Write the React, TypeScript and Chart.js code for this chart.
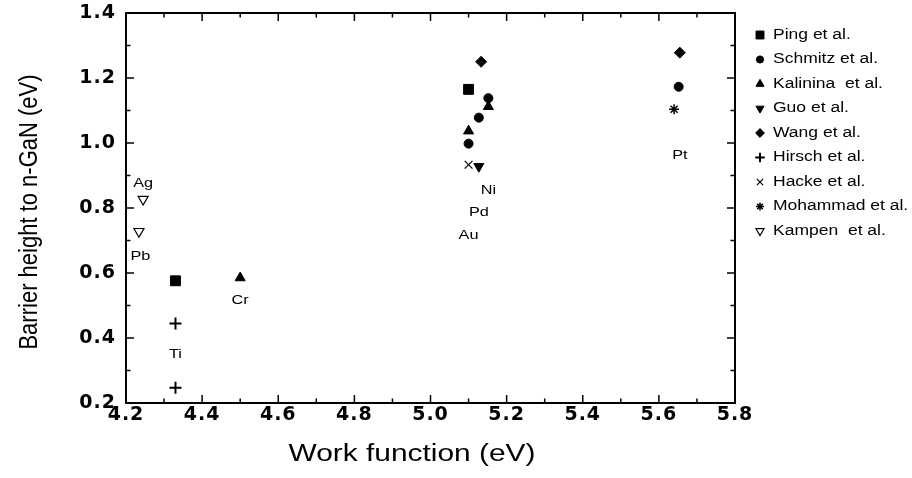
import React, { useEffect, useRef } from 'react';
import { Chart, registerables } from 'chart.js';
import { drawPoint } from 'chart.js/helpers';

Chart.register(...registerables);

// ---- axis ticks ----
const X_TICKS = [4.2, 4.4, 4.6, 4.8, 5.0, 5.2, 5.4, 5.6, 5.8];
const X_MINOR = [4.3, 4.5, 4.7, 4.9, 5.1, 5.3, 5.5, 5.7];
const Y_TICKS = [0.2, 0.4, 0.6, 0.8, 1.0, 1.2, 1.4];
const Y_MINOR = [0.3, 0.5, 0.7, 0.9, 1.1, 1.3];

const X_TITLE = 'Work function (eV)';
const Y_TITLE = 'Barrier height to n-GaN (eV)';

// ---- series ----
const SERIES_NAMES = [
  'Ping et al.',
  'Schmitz et al.',
  'Kalinina  et al.',
  'Guo et al.',
  'Wang et al.',
  'Hirsch et al.',
  'Hacke et al.',
  'Mohammad et al.',
  'Kampen  et al.',
];

const pingX = [4.33, 5.1];
const pingY = [0.576, 1.165];
const schmitzX = [5.1, 5.127, 5.152, 5.652];
const schmitzY = [0.998, 1.078, 1.138, 1.173];
const kalininaX = [4.5, 5.1, 5.152];
const kalininaY = [0.585, 1.037, 1.112];
const guoX = [5.127];
const guoY = [0.928];
const wangX = [5.133, 5.655];
const wangY = [1.25, 1.278];
const hirschX = [4.33, 4.33];
const hirschY = [0.445, 0.247];
const hackeX = [5.1];
const hackeY = [0.933];
const mohammadX = [5.64];
const mohammadY = [1.104];
const kampenX = [4.245, 4.234];
const kampenY = [0.827, 0.728];

// ---- metal annotations ----
const METALS = ['Ag', 'Pb', 'Cr', 'Ti', 'Au', 'Pd', 'Ni', 'Pt'];
const METAL_X = [4.245, 4.238, 4.5, 4.33, 5.1, 5.127, 5.152, 5.655];
const METAL_Y = [0.876, 0.65, 0.517, 0.348, 0.717, 0.785, 0.855, 0.963];

const SERIES_X = [pingX, schmitzX, kalininaX, guoX, wangX, hirschX, hackeX, mohammadX, kampenX];
const SERIES_Y = [pingY, schmitzY, kalininaY, guoY, wangY, hirschY, hackeY, mohammadY, kampenY];

type MarkerStyle = {
  pointStyle: string;
  radius: number;
  rotation: number;
  fill: string;
  borderWidth: number;
};

const STYLES: MarkerStyle[] = [
  { pointStyle: 'rect', radius: 7, rotation: 0, fill: '#000', borderWidth: 1 },
  { pointStyle: 'circle', radius: 4.5, rotation: 0, fill: '#000', borderWidth: 1 },
  { pointStyle: 'triangle', radius: 5.8, rotation: 0, fill: '#000', borderWidth: 1 },
  { pointStyle: 'triangle', radius: 5.8, rotation: 180, fill: '#000', borderWidth: 1 },
  { pointStyle: 'rectRot', radius: 5.5, rotation: 0, fill: '#000', borderWidth: 1 },
  { pointStyle: 'cross', radius: 6, rotation: 0, fill: '#000', borderWidth: 2 },
  { pointStyle: 'crossRot', radius: 5.5, rotation: 0, fill: '#000', borderWidth: 1.2 },
  { pointStyle: 'star', radius: 5, rotation: 0, fill: '#000', borderWidth: 1.5 },
  { pointStyle: 'triangle', radius: 5.8, rotation: 180, fill: '#fff', borderWidth: 1.2 },
];

function wideText(ctx: CanvasRenderingContext2D, text: string, x: number, y: number, sx: number, align: CanvasTextAlign) {
  ctx.save();
  ctx.translate(x, y);
  ctx.scale(sx, 1);
  ctx.textAlign = align;
  ctx.textBaseline = 'middle';
  ctx.fillText(text, 0, 0);
  ctx.restore();
}

const overlay = {
  id: 'overlay',
  beforeDraw(chart: any) {
    chart.ctx.letterSpacing = '1px';
  },
  beforeDatasetsDraw(chart: any) {
    chart.ctx.letterSpacing = '0px';
  },
  afterDraw(chart: any) {
    const { ctx, chartArea: a } = chart;
    const xs = chart.scales.x;
    const ys = chart.scales.y;
    ctx.save();
    ctx.letterSpacing = '0px';
    ctx.strokeStyle = '#000';
    ctx.fillStyle = '#000';

    // frame
    ctx.lineWidth = 2;
    ctx.strokeRect(a.left, a.top, a.right - a.left, a.bottom - a.top);

    // inward tick marks on all four sides
    ctx.lineWidth = 1.5;
    const seg = (x1: number, y1: number, x2: number, y2: number) => {
      ctx.beginPath();
      ctx.moveTo(x1, y1);
      ctx.lineTo(x2, y2);
      ctx.stroke();
    };
    const xt = (vals: number[], len: number) =>
      vals.forEach((v) => {
        const p = xs.getPixelForValue(v);
        seg(p, a.bottom, p, a.bottom - len);
        seg(p, a.top, p, a.top + len);
      });
    const yt = (vals: number[], len: number) =>
      vals.forEach((v) => {
        const p = ys.getPixelForValue(v);
        seg(a.left, p, a.left + len, p);
        seg(a.right, p, a.right - len, p);
      });
    xt(X_TICKS, 8);
    xt(X_MINOR, 4.5);
    yt(Y_TICKS, 8);
    yt(Y_MINOR, 4.5);

    // metal labels
    ctx.font = "13px 'Liberation Sans'";
    METALS.forEach((m, i) => {
      wideText(ctx, m, xs.getPixelForValue(METAL_X[i]), ys.getPixelForValue(METAL_Y[i]), 1.25, 'center');
    });

    // axis titles
    ctx.save();
    ctx.font = "22px 'Liberation Sans'";
    ctx.textAlign = 'center';
    ctx.textBaseline = 'middle';
    ctx.translate(30, (a.top + a.bottom) / 2 + 4);
    ctx.rotate(-Math.PI / 2);
    ctx.scale(1, 1.2);
    ctx.fillText(Y_TITLE, 0, 0);
    ctx.restore();

    ctx.font = "23px 'Liberation Sans'";
    wideText(ctx, X_TITLE, 412, 455, 1.3, 'center');

    // legend
    const lx = a.right + 25;
    const ly0 = 35;
    const step = 24.5;
    ctx.font = "14px 'Liberation Sans'";
    SERIES_NAMES.forEach((name, i) => {
      const st = STYLES[i];
      const yy = ly0 + step * i;
      ctx.save();
      ctx.fillStyle = st.fill;
      ctx.strokeStyle = '#000';
      ctx.lineWidth = st.borderWidth;
      drawPoint(
        ctx,
        {
          pointStyle: st.pointStyle as any,
          radius: st.radius * 0.8,
          rotation: st.rotation,
          borderWidth: st.borderWidth,
        } as any,
        lx,
        yy
      );
      ctx.restore();
      wideText(ctx, name, lx + 13, yy, 1.25, 'left');
    });
    ctx.restore();
    ctx.letterSpacing = '0px';
  },
};

export default function App() {
  const ref = useRef<HTMLCanvasElement>(null);
  useEffect(() => {
    document.body.style.margin = '0';
    const datasets = SERIES_NAMES.map((name, i) => {
      const st = STYLES[i];
      return {
        label: name,
        data: SERIES_X[i].map((x, j) => ({ x, y: SERIES_Y[i][j] })),
        showLine: false,
        pointStyle: st.pointStyle,
        pointRadius: st.radius,
        pointHoverRadius: st.radius,
        pointRotation: st.rotation,
        pointBackgroundColor: st.fill,
        pointBorderColor: '#000',
        pointBorderWidth: st.borderWidth,
        backgroundColor: st.fill,
        borderColor: '#000',
      };
    });
    const tickFont = { family: "'DejaVu Sans'", size: 19, weight: 'bold' as const };
    const chart = new Chart(ref.current as HTMLCanvasElement, {
      type: 'scatter',
      data: { datasets: datasets as any },
      options: {
        animation: false,
        responsive: false,
        devicePixelRatio: 1,
        events: [],
        layout: { padding: { top: 13, right: 177, bottom: 0, left: 0 } },
        plugins: {
          legend: { display: false },
          tooltip: { enabled: false },
        },
        scales: {
          x: {
            type: 'linear',
            min: 4.2,
            max: 5.8,
            grid: { display: false, drawTicks: false },
            border: { display: false },
            afterBuildTicks: (s: any) => {
              s.ticks = X_TICKS.map((v) => ({ value: v }));
            },
            afterFit: (s: any) => {
              s.height = 75;
              s.paddingLeft = 0;
              s.paddingRight = 0;
            },
            ticks: {
              color: '#000',
              font: tickFont,
              padding: 1,
              maxRotation: 0,
              autoSkip: false,
              callback: (v: any) => Number(v).toFixed(1),
            },
          },
          y: {
            type: 'linear',
            min: 0.2,
            max: 1.4,
            grid: { display: false, drawTicks: false },
            border: { display: false },
            afterBuildTicks: (s: any) => {
              s.ticks = Y_TICKS.map((v) => ({ value: v }));
            },
            afterFit: (s: any) => {
              s.width = 126;
              s.paddingTop = 0;
              s.paddingBottom = 0;
            },
            ticks: {
              color: '#000',
              font: tickFont,
              padding: 10,
              autoSkip: false,
              callback: (v: any) => Number(v).toFixed(1),
            },
          },
        },
      },
      plugins: [overlay],
    });
    return () => chart.destroy();
  }, []);
  return (
    <div style={{ width: 912, height: 478 }}>
      <canvas ref={ref} width={912} height={478} style={{ display: 'block' }} />
    </div>
  );
}
